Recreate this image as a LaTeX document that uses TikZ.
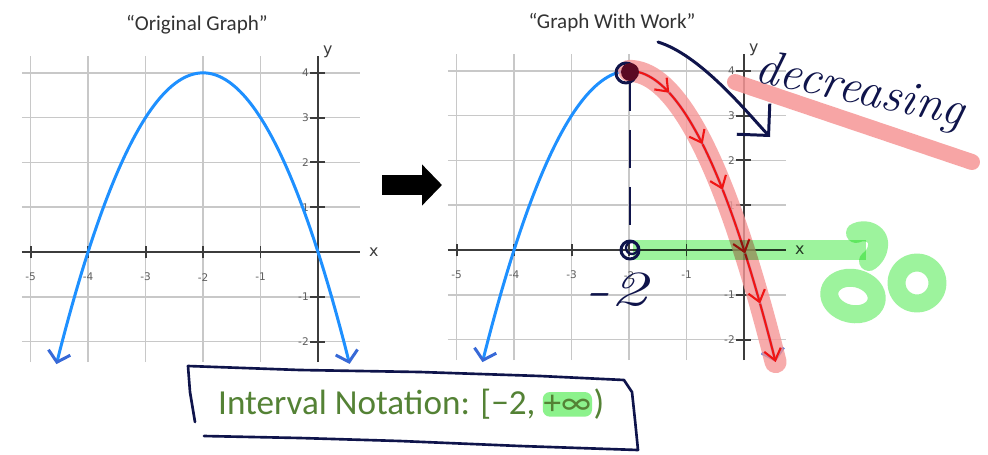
\documentclass[tikz,border=0pt]{standalone}
\usepackage{fontspec}
\newfontfamily\calibri{Carlito}
\newfontfamily\dejavu{DejaVu Sans}
\usepackage{xcolor}
\usetikzlibrary{arrows.meta, positioning}

\definecolor{gridgray}{RGB}{200,200,200}
\definecolor{axisgray}{RGB}{60,60,60}
\definecolor{tickgray}{RGB}{95,95,95}
\definecolor{curveblue}{RGB}{30,144,255}
\definecolor{tipblue}{RGB}{55,105,215}
\definecolor{navyink}{RGB}{15,20,75}
\definecolor{hlred}{RGB}{246,150,150}
\definecolor{inkred}{RGB}{240,20,20}
\definecolor{hlgreen}{RGB}{140,242,140}
\definecolor{olivetext}{RGB}{84,130,53}
\definecolor{dotmaroon}{RGB}{90,10,35}

\begin{document}
\begin{tikzpicture}[
  x=0.02cm, y=-0.02cm,
  gridline/.style={draw=gridgray, line width=0.85pt},
  axisline/.style={draw=axisgray, line width=1.1pt},
  ticklabel/.style={text=tickgray, font=\dejavu\fontsize{6}{6}\selectfont, inner sep=0.5pt},
  axislabel/.style={text=axisgray, font=\dejavu\fontsize{9}{9}\selectfont, inner sep=0pt},
  title/.style={text=black!80, font=\calibri\fontsize{12}{14}\selectfont},
  curve/.style={draw=curveblue, line width=1.7pt,
                {Straight Barb[length=0.2cm, width=0.45cm, color=tipblue]}-{Straight Barb[length=0.2cm, width=0.45cm, color=tipblue]}},
  redink/.style={draw=inkred, line width=1.2pt, -{Straight Barb[length=0.22cm, width=0.34cm]}},
  navypen/.style={draw=navyink, line width=1.7pt, line cap=round, line join=round},
  hlpen/.style={line width=0.4cm, line cap=round, line join=round},
  handtext/.style={text=navyink, font=\itshape\fontsize{28}{28}\selectfont, inner sep=0pt},
  interval/.style={text=olivetext, font=\calibri\fontsize{20}{22}\selectfont, inner xsep=0.5pt, inner ysep=1.5pt}
]
\fill[white] (0,0) rectangle (988,454);
\useasboundingbox (0,0) rectangle (988,454);

% the two grids
\foreach \ox/\oy/\g in {318/252/orig, 744/250/work}{
  \begin{scope}[shift={(\ox,\oy)}, x=1.15cm, y=0.896cm]
    \foreach \i in {-5,...,-1} \draw[gridline] (\i,-2.46) -- (\i,4.37);
    \foreach \j in {-2,...,4} \draw[gridline] (-5.15,\j) -- (0.73,\j);
    \draw[axisline] (-5.15,0) -- (0.73,0);
    \draw[axisline] (0,-2.46) -- (0,4.37);
    \foreach \i in {-5,...,-1}{
      \draw[axisline] (\i,-0.14) -- (\i,0.14);
      \node[ticklabel] (\g-tx\i) at (\i,-0.56) {\i};
    }
    \foreach \j in {-2,-1,1,2,3,4}{
      \draw[axisline] (-0.14,\j) -- (0.12,\j);
      \node[ticklabel, anchor=east] (\g-ty\j) at (-0.14,\j) {\j};
    }
    \node[axislabel] (\g-x) at (0.97,0) {x};
    \node[axislabel] (\g-y) at (0.17,4.48) {y};
    \draw[curve] plot[domain=-4.55:0.55, samples=60, smooth] (\x, {4-(\x+2)*(\x+2)});
  \end{scope}
}

\node[title] (origtitle) at (197,25) {“Original Graph”};
\node[title] (worktitle) at (612,23) {“Graph With Work”};

% arrow between the graphs
\coordinate (shaftL) at (382,185);
\coordinate (shaftR) at (442,185);
\draw[line width=0.4cm, -{Triangle[length=0.4cm, width=0.8cm]}] (shaftL) -- (shaftR);

% work on the right graph
\begin{scope}[shift={(744,250)}, x=1.15cm, y=0.896cm]
  \draw[hlpen, draw=hlred, draw opacity=0.8, line width=0.44cm]
    plot[domain=-2:0.55, samples=40, smooth] (\x, {4-(\x+2)*(\x+2)});
  \foreach \a/\b in {-2/-1.3, -1.3/-0.72, -0.72/-0.37, -0.37/0.02, 0.02/0.28, 0.28/0.55}
    \draw[redink] plot[domain=\a:\b, samples=10, smooth] (\x, {4-(\x+2)*(\x+2)});
\end{scope}

% green to infinity
\draw[hlpen, draw=hlgreen, draw opacity=0.85, blend mode=multiply, line cap=butt] (633,250) -- (866,250);
\draw[hlpen, draw=hlgreen, draw opacity=0.85, blend mode=multiply]
  (856,233) .. controls (866,228) and (880,234) .. (878,246) .. controls (877,254) and (873,258) .. (869,261);
\draw[hlpen, draw=hlgreen, draw opacity=0.85, line width=0.36cm]
  (853,296) ellipse [x radius=0.48cm, y radius=0.36cm, rotate=-12]
  (917,283) circle [radius=0.41cm];

% vertex and dashes
\draw[navypen, dash pattern=on 0.76cm off 0.38cm, line cap=butt] (630,73) -- (630,232);
\draw[navypen] (626,73) circle [radius=0.2cm];
\fill[dotmaroon] (630,72) circle [radius=0.18cm];
\draw[navypen] (630,250) circle [radius=0.18cm];
\draw[navypen, line width=1.3pt] (632,248) circle [radius=0.12cm];
\node[handtext, xscale=1.5] (minustwo) at (616,290) {-2};

% decreasing
\draw[hlpen, draw=hlred, draw opacity=0.85, line width=0.32cm] (735,82) -- (972,162);
\node[handtext, rotate=-12] (decr) at (860,92) {decreasing};
\draw[navypen, -{Straight Barb[length=0.45cm, width=0.9cm]}]
  (658,42) .. controls (700,55) and (745,110) .. (770,137);

% interval notation
\node[interval, anchor=base west] (intervaltext) at (217,414) {Interval Notation: [−2,\,};
\node[interval, anchor=base west, fill=hlgreen, rounded corners=4pt] (infty) at (intervaltext.base east) {+∞};
\node[interval, anchor=base west] (closebr) at (infty.base east) {)};
\draw[navypen, line width=1.5pt]
  (195,422) -- (190,392) -- (188,366) -- (300,370) -- (420,372) -- (540,376) -- (624,380)
  -- (632,392) -- (635,420) -- (638,450) -- (520,446) -- (400,441) -- (300,438) -- (204,436);
\end{tikzpicture}
\end{document}
